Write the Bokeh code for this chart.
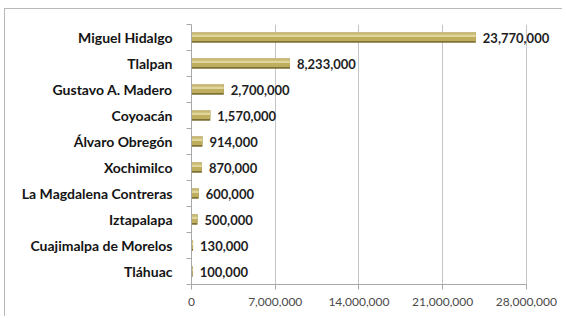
from bokeh.plotting import figure
from bokeh.models import FixedTicker, NumeralTickFormatter, Range1d, ColumnDataSource, InlineStyleSheet
from bokeh.embed import file_html
from bokeh.resources import INLINE
from bokeh.core.properties import value

# Data (top to bottom as shown)
delegaciones = ["Miguel Hidalgo", "Tlalpan", "Gustavo A. Madero", "Coyoacán",
                "Álvaro Obregón", "Xochimilco", "La Magdalena Contreras",
                "Iztapalapa", "Cuajimalpa de Morelos", "Tláhuac"]
valores = [23770000, 8233000, 2700000, 1570000, 914000, 870000, 600000,
           500000, 130000, 100000]
x_ticks = [0, 7000000, 14000000, 21000000, 28000000]

n = len(delegaciones)
pos = [n - 0.5 - i for i in range(n)]
labels = [f"{v:,}" for v in valores]

src = ColumnDataSource(dict(y=pos, v=valores, lab=labels,
                            y_mid=[p_ + 0.035 for p_ in pos],
                            y_hi=[p_ + 0.07 for p_ in pos],
                            y_top=[p_ + 0.175 for p_ in pos]))

sheet = InlineStyleSheet(css=":host { border-top: 1px solid #b8b8b8; border-left: 1px solid #b8b8b8; margin-top: 8px; margin-left: 4px; }")

p = figure(width=558, height=308, output_backend="svg", toolbar_location=None,
           x_range=Range1d(0, 30600000), y_range=Range1d(0, n),
           min_border_left=186, min_border_right=6, min_border_top=15,
           min_border_bottom=33, stylesheets=[sheet])
p.outline_line_color = None
p.background_fill_color = "white"
p.border_fill_color = "white"

# cylinder-like bars
p.hbar(y="y", right="v", left=0, height=0.40, source=src,
       fill_color="#7f7035", line_color=None)
p.hbar(y="y_mid", right="v", left=0, height=0.33, source=src,
       fill_color="#bfae5e", line_color=None)
p.hbar(y="y_hi", right="v", left=0, height=0.10, source=src,
       fill_color="#e0d69c", line_color=None)
p.hbar(y="y_top", right="v", left=0, height=0.05, source=src,
       fill_color="#cfc58f", line_color=None)

p.text(x="v", y="y", text="lab", source=src, x_offset=7,
       text_baseline="middle", text_align="left",
       text_font=value("Lato"), text_font_style="bold",
       text_font_size="13px", text_color="#1e1e1e")

# x axis
xa = p.xaxis[0]
xa.ticker = FixedTicker(ticks=x_ticks)
xa.formatter = NumeralTickFormatter(format="0,0")
xa.bounds = (0, 28000000)
xa.axis_line_color = "#a8a8a8"
xa.major_tick_line_color = "#a8a8a8"
xa.major_tick_out = 5
xa.major_tick_in = 0
xa.minor_tick_line_color = None
xa.major_label_text_font = "Lato"
xa.major_label_text_font_size = "12px"
xa.major_label_text_color = "#4a4a4a"
xa.major_label_standoff = 8

# y axis
ya = p.yaxis[0]
ya.ticker = FixedTicker(ticks=pos, minor_ticks=list(range(n + 1)))
ya.major_label_overrides = {pp: name for pp, name in zip(pos, delegaciones)}
ya.axis_line_color = "#a8a8a8"
ya.major_tick_line_color = None
ya.major_tick_out = 0
ya.major_tick_in = 0
ya.minor_tick_line_color = "#a8a8a8"
ya.minor_tick_out = 5
ya.minor_tick_in = 0
ya.major_label_text_font = "Lato"
ya.major_label_text_font_style = "bold"
ya.major_label_text_font_size = "14px"
ya.major_label_text_color = "#141414"
ya.major_label_standoff = 14

p.ygrid.grid_line_color = None
p.xgrid.ticker = FixedTicker(ticks=x_ticks)
p.xgrid.grid_line_color = "#c4c4c4"

open("out.html", "w").write(file_html(p, INLINE))
